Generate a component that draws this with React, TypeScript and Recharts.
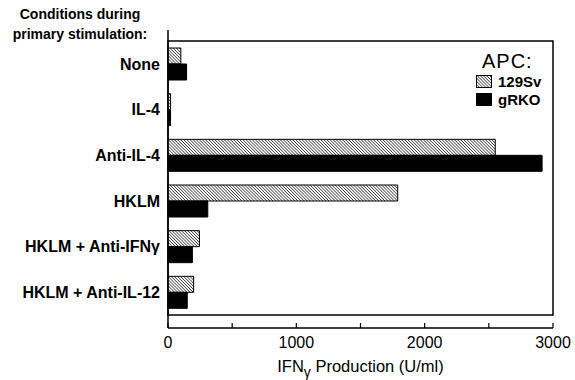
import React from 'react';
import { BarChart, Bar, XAxis, YAxis, Legend, ReferenceArea } from 'recharts';

const categories = ['None', 'IL-4', 'Anti-IL-4', 'HKLM', 'HKLM + Anti-IFNγ', 'HKLM + Anti-IL-12'];
const sv129 = [100, 20, 2550, 1790, 245, 200];
const grko = [145, 20, 2915, 310, 190, 150];
const xTicks = [0, 500, 1000, 1500, 2000, 2500, 3000];

const data = categories.map((name, i) => ({ name, sv129: sv129[i], grko: grko[i] }));

const FONT = '"Liberation Sans", Arial, Helvetica, sans-serif';

const XTick = (props: any) => {
  const { x, y, payload } = props;
  return (
    <g>
      <line x1={x} x2={x} y1={y} y2={y - 5} stroke="#000" strokeWidth={1.2} />
      {payload.value % 1000 === 0 && (
        <text x={x} y={y + 20} textAnchor="middle" fontSize={16} fontFamily={FONT} fill="#000">
          {payload.value}
        </text>
      )}
    </g>
  );
};

const XLabel = (props: any) => {
  const { viewBox } = props;
  const cx = viewBox.x + viewBox.width / 2;
  return (
    <text x={cx} y={viewBox.y + 44} textAnchor="middle" fontSize={16.5} fontFamily={FONT} fill="#000">
      IFN<tspan dy={5} fontSize={14}>γ</tspan>
      <tspan dy={-5}> Production (U/ml)</tspan>
    </text>
  );
};

const YTitle = (props: any) => {
  const { viewBox } = props;
  return (
    <text textAnchor="middle" fontSize={14} fontWeight="bold" fontFamily={FONT} fill="#000">
      <tspan x={80} y={viewBox.y - 11}>Conditions during</tspan>
      <tspan x={80} y={viewBox.y + 9}>primary stimulation:</tspan>
    </text>
  );
};

const Frame = (props: any) => {
  const { x, y, width, height } = props;
  return <rect x={x} y={y} width={width} height={height} fill="none" stroke="#000" strokeWidth={1.5} />;
};

const LegendBox = (props: any) => {
  const { payload } = props;
  return (
    <div style={{ fontFamily: FONT, color: '#000' }}>
      <div style={{ fontSize: 20, marginLeft: 6, lineHeight: '21px', letterSpacing: 1 }}>APC:</div>
      {(payload || []).map((p: any) => (
        <div key={p.value} style={{ display: 'flex', alignItems: 'center', height: 18, fontSize: 15, fontWeight: 'bold' }}>
          <svg width={16} height={13} style={{ marginRight: 6 }}>
            <rect x={0.5} y={0.5} width={15} height={12} fill={p.payload.fill} stroke="#000" />
          </svg>
          {p.value}
        </div>
      ))}
    </div>
  );
};

export default function App() {
  return (
    <div style={{ position: 'absolute', left: 0, top: 0, background: '#fff' }}>
      <BarChart
        width={575}
        height={380}
        data={data}
        layout="vertical"
        margin={{ top: 30, right: 22, bottom: 0, left: 0 }}
        barCategoryGap={7}
        barGap={0}
      >
        <defs>
          <pattern id="hatch" width="2.2" height="2.2" patternUnits="userSpaceOnUse" patternTransform="rotate(-45)">
            <rect width="2.2" height="2.2" fill="#fff" />
            <line x1="0" y1="0" x2="0" y2="2.2" stroke="#222" strokeWidth="1.3" />
          </pattern>
        </defs>
        <XAxis
          type="number"
          domain={[0, 3000]}
          ticks={xTicks}
          height={52}
          tickSize={0}
          tickMargin={0}
          tick={<XTick />}
          axisLine={{ stroke: '#000', strokeWidth: 1.5 }}
          tickLine={false}
          label={<XLabel />}
          interval={0}
        />
        <YAxis
          type="category"
          dataKey="name"
          width={168}
          tickSize={0}
          tickMargin={8}
          tickLine={false}
          axisLine={{ stroke: '#000', strokeWidth: 1.5 }}
          tick={{ fill: '#000', fontSize: 16, fontWeight: 'bold', fontFamily: FONT }}
          padding={{ top: 11, bottom: 13 }}
          interval={0}
          label={<YTitle />}
        />
        <ReferenceArea x1={0} x2={3000} ifOverflow="visible" shape={<Frame />} />
        <Legend
          layout="horizontal"
          verticalAlign="middle"
          align="center"
          content={<LegendBox />}
          wrapperStyle={{ left: 476, top: 51, width: 90 }}
        />
        <Bar dataKey="sv129" name="129Sv" fill="url(#hatch)" stroke="#000" strokeWidth={1} isAnimationActive={false} />
        <Bar dataKey="grko" name="gRKO" fill="#000" stroke="#000" strokeWidth={1} isAnimationActive={false} />
      </BarChart>
    </div>
  );
}
